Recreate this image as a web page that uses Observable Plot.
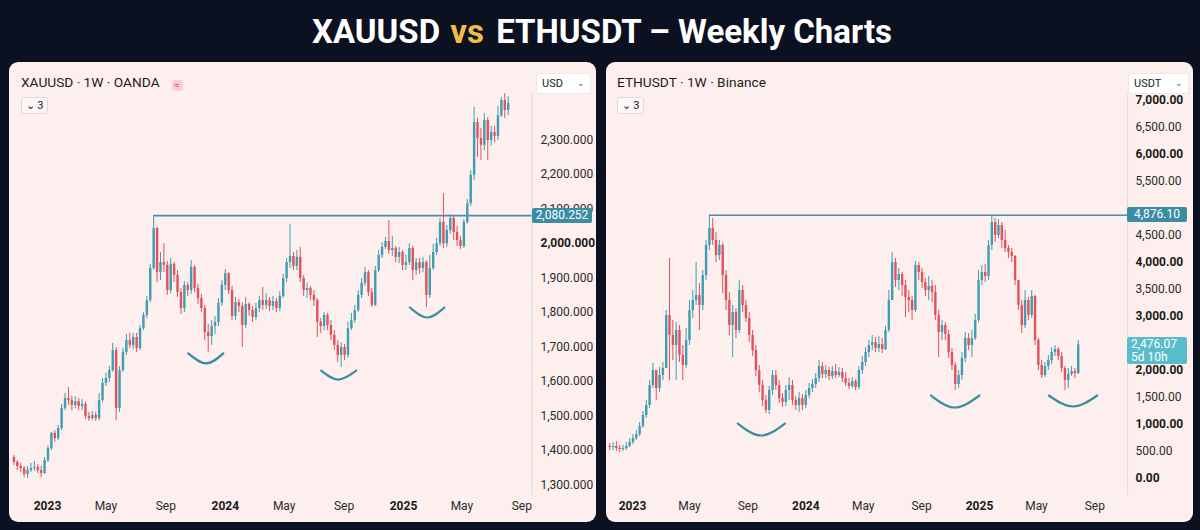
<!DOCTYPE html>
<html><head><meta charset="utf-8">
<script src="https://cdn.jsdelivr.net/npm/d3@7"></script>
<script src="https://cdn.jsdelivr.net/npm/@observablehq/plot@0.6"></script>
<style>
html,body{margin:0;padding:0;background:#0b1120;}
body{width:1200px;height:530px;position:relative;overflow:hidden;font-family:Roboto,"Noto Sans",sans-serif;}
#title{position:absolute;left:0;top:12px;width:1204px;text-align:center;color:#ffffff;font-size:33px;font-weight:700;line-height:40px;}
#title .vs{color:#f0bd45;margin:0 4px 0 2px;}
.panel{position:absolute;top:62px;width:587px;height:460px;background:#fcefee;border-radius:9px;overflow:hidden;}
.hdr{position:absolute;left:12px;top:12px;font-size:13.7px;color:#1c1c1c;line-height:16px;white-space:nowrap;}
.badge{display:inline-block;width:11px;height:11px;margin-left:12px;vertical-align:-1px;background:#f8cfd7;border-radius:3px;color:#e0485a;font-size:9px;line-height:11px;text-align:center;}
.leg{position:absolute;left:12px;top:35px;width:27px;height:17px;border:1px solid #e3d7d7;border-radius:3px;background:#fdf6f6;font-size:11px;line-height:16px;color:#222;text-align:center;box-sizing:border-box;}
.dd{position:absolute;top:11px;height:21px;background:#ffffff;border:1px solid #f0e6e6;border-radius:3px;font-size:11px;line-height:19px;color:#1c1c1c;box-sizing:border-box;padding-left:5px;}
.dd span{position:absolute;right:5px;top:0;color:#555;font-size:9px;}
.lbl{position:absolute;color:#ffffff;font-size:12px;text-align:center;line-height:15px;border-radius:2px;}
</style>
</head>
<body>
<div id="title">XAUUSD <span class="vs">vs</span> ETHUSDT – Weekly Charts</div>
<div class="panel" id="p1" style="left:9px;">
  <div class="hdr">XAUUSD · 1W · OANDA<span class="badge">≈</span></div>
  <div class="leg">⌄ 3</div>
  <div class="dd" style="left:527px;width:55px;">USD<span>⌄</span></div>
</div>
<div class="panel" id="p2" style="left:606px;">
  <div class="hdr" style="left:11px;">ETHUSDT · 1W · Binance</div>
  <div class="leg" style="left:11px;">⌄ 3</div>
  <div class="dd" style="left:522px;width:61px;">USDT<span>⌄</span></div>
</div>
<script>
// ---------- shared ----------
const xTickDates = ["2023-01-01","2023-05-01","2023-09-01","2024-01-01","2024-05-01","2024-09-01","2025-01-01","2025-05-01","2025-09-01"];

// ---------- XAUUSD weekly ----------
const goldStart = "2022-10-24";
const goldFirstOpen = 1379;
const goldClose = [
1365,1353,1347,1330,1341,1347,1350,1341,1333,1370,
1405,1449,1434,1463,1521,1550,1544,1530,1541,1527,
1533,1498,1492,1501,1492,1544,1594,1608,1631,1689,
1521,1631,1684,1718,1704,1727,1695,1753,1791,1834,
1927,2043,1915,1944,1936,1863,1939,1907,1857,1811,
1878,1863,1930,1869,1840,1811,1741,1730,1759,1771,
1826,1878,1912,1863,1788,1828,1817,1762,1823,1805,
1785,1811,1834,1820,1834,1817,1831,1811,1846,1898,
1944,1962,1933,1959,1898,1863,1869,1849,1834,1771,
1759,1791,1762,1733,1704,1675,1698,1675,1753,1776,
1805,1849,1884,1915,1857,1820,1921,1965,1988,2005,
1979,1985,1959,1973,1936,1944,1985,1921,1944,1927,
1944,1849,1927,1973,1999,2060,1999,2037,2072,2031,
2008,1991,2060,2115,2197,2350,2304,2284,2356,2298,
2321,2310,2370,2414,2385,2405];
const goldHigh = [
1385,1370,1362,1353,1353,1362,1368,1359,1353,1379,
1414,1452,1457,1472,1533,1565,1582,1556,1556,1550,
1547,1539,1510,1512,1510,1565,1608,1623,1643,1710,
1698,1643,1695,1736,1739,1739,1739,1762,1799,1846,
1939,2080.252,2046,1973,1999,1947,1956,1944,1921,1869,
1889,1886,1950,1936,1881,1852,1820,1765,1776,1788,
1840,1892,1924,1915,1875,1843,1837,1828,1843,1828,
1817,1826,1846,1872,1854,1843,1846,1840,1860,1910,
1956,2055,1973,1979,1988,1907,1884,1875,1863,1840,
1782,1799,1797,1776,1747,1718,1712,1707,1771,1797,
1820,1863,1898,1930,1921,1869,1933,1979,2002,2017,
2066,2020,1991,1988,1979,1965,1999,1991,1956,1956,
1959,1950,1965,1997,2014,2072,2144,2052,2083,2078,
2049,2020,2069,2127,2211,2394,2362,2333,2376,2365,
2339,2339,2397,2423,2434,2425];
const goldLow = [
1356,1341,1336,1321,1318,1336,1339,1333,1321,1330,
1365,1399,1423,1428,1457,1515,1530,1515,1521,1515,
1515,1489,1484,1486,1484,1486,1539,1585,1597,1626,
1486,1510,1626,1675,1695,1692,1684,1689,1747,1782,
1828,1921,1886,1892,1915,1849,1854,1886,1843,1794,
1799,1846,1852,1857,1823,1799,1718,1684,1704,1736,
1759,1817,1863,1852,1776,1776,1799,1698,1753,1788,
1771,1776,1799,1805,1808,1802,1805,1799,1802,1840,
1886,1927,1921,1921,1886,1846,1840,1834,1817,1727,
1739,1747,1747,1718,1689,1654,1640,1660,1666,1747,
1768,1799,1840,1875,1846,1814,1817,1915,1956,1982,
1968,1962,1944,1941,1921,1921,1936,1892,1907,1910,
1915,1814,1840,1921,1965,1991,1985,1988,2026,2008,
1991,1982,1985,2055,2107,2182,2249,2240,2269,2240,
2281,2292,2298,2365,2362,2370];
const goldLevel = 2080.252;
const goldYTicks = [1300,1400,1500,1600,1700,1800,1900,2000,2100,2200,2300];
const goldBoldTicks = [2000];
const goldArcs = [
  {id:"a1", start:"2023-10-17", mid:"2023-11-23", end:"2023-12-28", top:1681, bottom:1652},
  {id:"a2", start:"2024-07-16", mid:"2024-08-20", end:"2024-09-26", top:1631, bottom:1605},
  {id:"a3", start:"2025-01-14", mid:"2025-02-19", end:"2025-03-26", top:1814, bottom:1785}
];

// ---------- ETHUSDT weekly ----------
const ethStart = "2022-11-14";
const ethFirstOpen = 593;
const ethClose = [
574,593,556,537,556,593,667,741,815,963,
1167,1352,1722,2000,1667,1907,2037,3018,2648,2463,
2741,2278,2093,2556,3111,3296,3389,3204,3759,4315,
4630,4407,4130,4315,3759,3296,2833,3074,2741,3481,
3204,2963,2648,2370,2000,1722,1444,1259,1630,1907,
1722,1481,1407,1630,1722,1444,1352,1481,1352,1537,
1667,1741,1852,2074,1926,2000,1889,1981,1907,1963,
1852,1759,1704,1796,1685,2000,2148,2333,2463,2518,
2407,2481,2389,2741,3296,4000,3667,3778,3574,3352,
3296,3111,3944,3815,3630,3481,3556,3444,3018,2704,
2833,2667,2333,2093,1741,1907,2222,2593,2463,2593,
2926,3667,3815,3741,4315,4741,4500,4685,4407,4259,
4185,4111,3667,3204,2833,3296,3018,3370,2556,2093,
1907,2074,2185,2333,2389,2259,2037,1815,1926,1981,
1944,2476.07];
const ethHigh = [
648,667,685,611,611,667,741,815,889,1037,
1241,1444,1815,2130,2000,2056,2148,3111,4074,2926,
2889,2833,2463,2778,3296,3481,4000,3611,3852,4407,
4876.10,4815,4556,4407,4352,3852,3444,3204,3148,3667,
3574,3296,3074,2741,2463,2093,1815,1537,1704,2000,
2000,1815,1574,1722,1870,1815,1519,1593,1556,1630,
1759,1833,1944,2185,2148,2093,2056,2074,2111,2056,
2037,1963,1852,1870,1833,2074,2259,2426,2556,2648,
2611,2630,2593,2815,3481,4185,4074,3889,3815,3667,
3481,3370,4018,4000,3889,3704,3741,3667,3574,3111,
2926,2889,2741,2407,2148,2000,2333,2704,2685,2741,
3037,3852,3944,3963,4407,4876.10,4815,4796,4741,4592,
4315,4259,4130,3574,3296,3481,3352,3481,3389,2593,
2185,2148,2278,2426,2463,2426,2333,2074,2037,2074,
2037,2556];
const ethLow = [
519,519,500,481,500,519,574,630,704,778,
926,1111,1296,1667,1444,1593,1815,2037,1815,2185,
1815,2148,1815,2037,2463,2963,3204,2741,3111,3667,
4222,4315,4000,4037,3426,3111,2648,2241,2593,2685,
3074,2889,2518,2259,1889,1593,1333,1204,1185,1537,
1630,1389,1315,1333,1444,1352,1259,1222,1259,1296,
1481,1593,1667,1778,1852,1852,1815,1833,1852,1870,
1778,1704,1648,1667,1630,1648,1926,2074,2241,2370,
2333,2333,2315,2370,2704,3296,3537,3481,3370,2981,
3074,2926,3074,3667,3518,3370,3296,3259,2926,2241,
2556,2556,2222,2000,1630,1667,1815,2148,2370,2241,
2556,2889,3574,3630,3667,4222,4370,4444,4259,4185,
4074,4000,3574,3111,2685,2778,2926,2963,2463,2000,
1852,1870,2000,2111,2259,2185,1963,1630,1667,1889,
1852,1926];
const ethLevel = 4876.10;
const ethYTicks = [0,500,1000,1500,2000,3000,3500,4000,4500,5500,6000,6500,7000];
const ethBoldTicks = [0,1000,2000,3000,4000,6000,7000];
const ethArcs = [
  {id:"b1", start:"2023-08-11", mid:"2023-09-29", end:"2023-11-18", top:1018, bottom:796},
  {id:"b2", start:"2024-09-21", mid:"2024-11-10", end:"2025-01-01", top:1537, bottom:1315},
  {id:"b3", start:"2025-05-27", mid:"2025-07-17", end:"2025-09-06", top:1537, bottom:1333}
];

// ---------- helpers ----------
function buildRows(start, firstOpen, closes, highs, lows) {
  const t0 = new Date(start);
  return closes.map((c, i) => {
    const open = i ? closes[i - 1] : firstOpen;
    return {date: d3.utcDay.offset(t0, 7 * i), open, close: c,
            high: Math.max(highs[i], open, c), low: Math.min(lows[i], open, c)};
  });
}
function arcPoints(arcs) {
  return arcs.flatMap(a => [
    {id: a.id, date: new Date(a.start), price: a.top},
    {id: a.id, date: new Date(a.mid), price: a.bottom},
    {id: a.id, date: new Date(a.end), price: a.top}
  ]);
}
const UP = "#3e9db0", DOWN = "#e1525c";

function drawChart(cfg) {
  const rows = buildRows(cfg.start, cfg.firstOpen, cfg.closes, cfg.highs, cfg.lows);
  const col = d => d.close >= d.open ? UP : DOWN;
  const peak = rows.find(d => d.high >= cfg.level);
  const axisEnd = new Date(cfg.axisEnd);
  const fmt = d3.format(cfg.fmt);
  const xt = xTickDates.map(d => new Date(d));
  const years = xt.filter(d => d.getUTCMonth() === 0);
  const months = xt.filter(d => d.getUTCMonth() !== 0);
  const normalTicks = cfg.yTicks.filter(v => !cfg.boldTicks.includes(v));
  const boldTicks = cfg.yTicks.filter(v => cfg.boldTicks.includes(v));
  const plot = Plot.plot({
    width: 587, height: 460, margin: 0,
    x: {type: "utc", domain: [new Date("2023-01-01"), new Date("2025-01-01")], range: cfg.xRange, axis: null},
    y: {domain: cfg.yDomain, range: cfg.yRange, axis: null},
    style: {background: "transparent", fontFamily: "Roboto, 'Noto Sans', sans-serif", overflow: "visible"},
    marks: [
      Plot.ruleX([axisEnd], {x: d => d, insetTop: 32, insetBottom: 27, stroke: "#e6d9d9", strokeWidth: 1}),
      Plot.ruleY([cfg.level], {y: d => d, x1: () => peak.date, x2: () => axisEnd, stroke: "#4a8db0", strokeWidth: 1.6}),
      Plot.ruleX(rows, {x: "date", y1: "low", y2: "high", stroke: col, strokeWidth: 1}),
      Plot.ruleX(rows, {x: "date", y1: "open", y2: "close", stroke: col, strokeWidth: 2.4}),
      Plot.line(arcPoints(cfg.arcs), {x: "date", y: "price", z: "id", curve: "natural", stroke: "#3b8d9f", strokeWidth: 2.2}),
      Plot.text(normalTicks, {y: d => d, text: d => fmt(d), frameAnchor: "left", dx: cfg.labelX, textAnchor: "start", fill: "#2a2a2a", fontSize: 12}),
      Plot.text(boldTicks, {y: d => d, text: d => fmt(d), frameAnchor: "left", dx: cfg.labelX, textAnchor: "start", fill: "#1a1a1a", fontSize: 12, fontWeight: "bold"}),
      Plot.text(years, {x: d => d, text: d => d3.utcFormat("%Y")(d), frameAnchor: "bottom", dy: -13, fill: "#1a1a1a", fontSize: 12, fontWeight: "bold"}),
      Plot.text(months, {x: d => d, text: d => d3.utcFormat("%b")(d), frameAnchor: "bottom", dy: -13, fill: "#2a2a2a", fontSize: 12})
    ]
  });
  plot.style.position = "absolute";
  plot.style.left = "0px";
  plot.style.top = "0px";
  const panel = document.getElementById(cfg.panel);
  panel.appendChild(plot);
  const ys = plot.scale("y");
  const lv = document.createElement("div");
  lv.className = "lbl";
  lv.style.cssText = `left:${cfg.boxLeft}px;top:${ys.apply(cfg.level) - 7.5}px;width:${cfg.boxWidth}px;height:15px;background:#3a8da3;`;
  lv.textContent = fmt(cfg.level);
  panel.appendChild(lv);
  if (cfg.current) {
    const last = rows[rows.length - 1];
    const cb = document.createElement("div");
    cb.className = "lbl";
    cb.style.cssText = `left:${cfg.boxLeft}px;top:${ys.apply(last.close) - 7.5}px;width:${cfg.boxWidth}px;height:27px;background:#58bccb;text-align:left;padding-left:4px;box-sizing:border-box;line-height:13px;padding-top:1px;`;
    cb.innerHTML = fmt(last.close) + "<br>" + cfg.current;
    panel.appendChild(cb);
  }
}

drawChart({panel: "p1", start: goldStart, firstOpen: goldFirstOpen, closes: goldClose, highs: goldHigh, lows: goldLow,
  level: goldLevel, yTicks: goldYTicks, boldTicks: goldBoldTicks, arcs: goldArcs, fmt: ",.3f",
  xRange: [38, 394], yDomain: [1300, 2300], yRange: [422.3, 77.3], axisEnd: "2025-09-22",
  labelX: 531, boxLeft: 523, boxWidth: 60});
drawChart({panel: "p2", start: ethStart, firstOpen: ethFirstOpen, closes: ethClose, highs: ethHigh, lows: ethLow,
  level: ethLevel, yTicks: ethYTicks, boldTicks: ethBoldTicks, arcs: ethArcs, fmt: ",.2f",
  xRange: [26, 373], yDomain: [0, 7000], yRange: [416, 38], axisEnd: "2025-11-09",
  labelX: 529, boxLeft: 521, boxWidth: 60, current: "5d 10h"});
</script>
</body></html>
